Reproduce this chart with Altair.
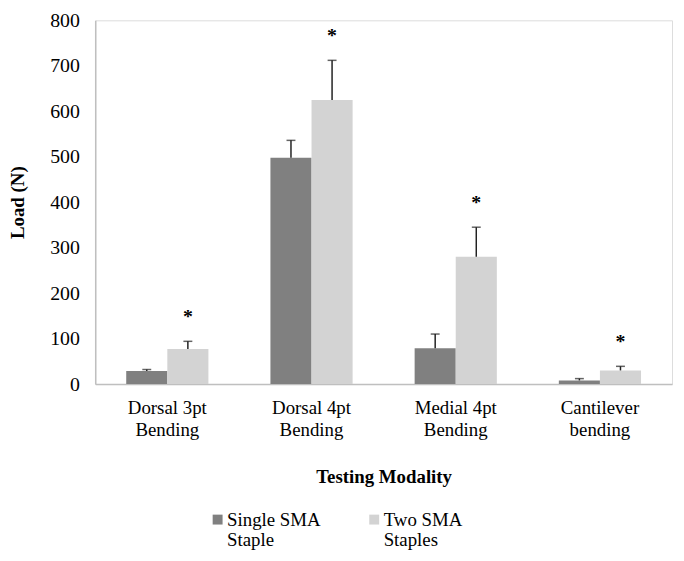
import altair as alt
import pandas as pd

categories = ["Dorsal 3pt\nBending", "Dorsal 4pt\nBending", "Medial 4pt\nBending", "Cantilever\nbending"]
series = ["Single SMA\nStaple", "Two SMA\nStaples"]
single_mean = [29, 498, 79, 8]
single_upper = [32, 536, 110, 12]
two_mean = [77, 625, 280, 30]
two_upper = [94, 712, 345, 39]
significant = ["*", "*", "*", "*"]

rows = []
for i, c in enumerate(categories):
    rows.append({"cat": c, "grp": series[0], "val": single_mean[i], "up": single_upper[i], "star": ""})
    rows.append({"cat": c, "grp": series[1], "val": two_mean[i], "up": two_upper[i], "star": significant[i]})
df = pd.DataFrame(rows)

FONT = "Liberation Serif"

x = alt.X("cat:N", sort=categories, title="Testing Modality",
          scale=alt.Scale(paddingInner=0.43, paddingOuter=0.215),
          axis=alt.Axis(labelAngle=0, labelExpr="split(datum.label, '\\n')",
                        ticks=False, tickSize=0, labelPadding=15, labelLineHeight=22,
                        labelFontSize=19, labelFont=FONT, labelColor="#000000",
                        domainColor="#bfbfbf", domainWidth=1.5,
                        titleFont=FONT, titleFontSize=19, titleFontWeight="bold",
                        titleColor="#000000", titlePadding=28))
xo = alt.XOffset("grp:N", sort=series)
y_scale = alt.Scale(domain=[0, 800])

base = alt.Chart(df)

bars = base.mark_bar().encode(
    x=x, xOffset=xo,
    y=alt.Y("val:Q", scale=y_scale, title="Load (N)",
            axis=alt.Axis(values=list(range(0, 801, 100)), grid=False, ticks=False, tickSize=0,
                          labelPadding=16, labelFontSize=20, labelFont=FONT, labelColor="#000000",
                          domainColor="#bfbfbf", domainWidth=1.5,
                          titleFont=FONT, titleFontSize=19, titleFontWeight="bold",
                          titleColor="#000000", titlePadding=22)),
    color=alt.Color("grp:N", sort=series,
                    scale=alt.Scale(domain=series, range=["#808080", "#d3d3d3"]),
                    legend=alt.Legend(title=None, orient="none", legendX=114, legendY=494,
                                      direction="horizontal", symbolType="square",
                                      symbolSize=100, symbolStrokeWidth=0,
                                      labelExpr="split(datum.label, '\\n')",
                                      labelFont=FONT, labelFontSize=19, labelColor="#000000",
                                      labelLimit=200, columnPadding=44, labelOffset=0)),
)

rules = base.mark_rule(color="#222222", strokeWidth=1.5).encode(
    x=x, xOffset=xo, y=alt.Y("val:Q", scale=y_scale), y2="up:Q")

caps = base.mark_tick(color="#222222", thickness=1.5, size=9, orient="horizontal").encode(
    x=x, xOffset=xo, y=alt.Y("up:Q", scale=y_scale))

stars = base.mark_text(font=FONT, fontSize=20, fontWeight="bold", color="#000000",
                       baseline="alphabetic", dy=-18).encode(
    x=x, xOffset=xo, y=alt.Y("up:Q", scale=y_scale), text="star:N")

chart = alt.layer(bars, rules, caps, stars).properties(
    width=582, height=367,
    autosize=alt.AutoSizeParams(type="none"),
    padding={"left": 88, "top": 10, "right": 4, "bottom": 166},
).configure_view(stroke=None).configure(background="#ffffff", font=FONT)

chart.save("out.html", embed_options={"renderer": "svg", "actions": False})
